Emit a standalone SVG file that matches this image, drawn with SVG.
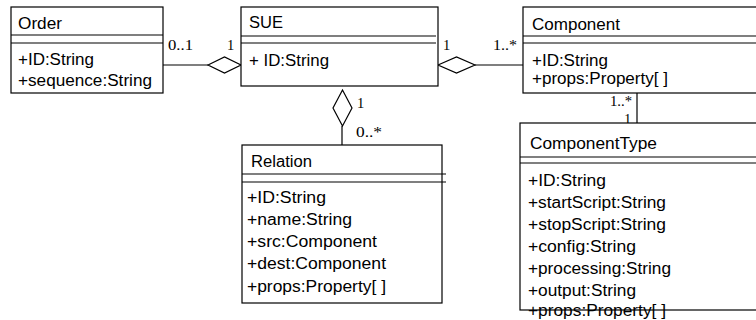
<svg xmlns="http://www.w3.org/2000/svg" width="756" height="320" viewBox="0 0 756 320">
<style>
.box{fill:#fff;stroke:#000;stroke-width:1.2}
.sep{stroke:#000;stroke-width:1.2;fill:none}
.t{font-family:"Liberation Sans",Arial,sans-serif;font-size:16px;fill:#000}
.m{font-family:"Liberation Serif","Times New Roman",serif;font-size:14.5px;fill:#000}
.ln{stroke:#000;stroke-width:1.2;fill:none}
.dia{fill:#fff;stroke:#000;stroke-width:1.2}
</style>
<rect width="756" height="320" fill="#fff"/>
<g id="connectors">
<line class="ln" x1="163" y1="65" x2="208" y2="65"/>
<polygon class="dia" points="208,65 224.5,57 241,65 224.5,73"/>
<line class="ln" x1="475" y1="65" x2="523" y2="65"/>
<polygon class="dia" points="438,65 456.5,57 475,65 456.5,73"/>
<line class="ln" x1="342" y1="126" x2="342" y2="146"/>
<polygon class="dia" points="342.5,90 352,108 342.5,126 333,108"/>
<line class="ln" x1="637" y1="93" x2="637" y2="123"/>
<text class="m" x="168" y="50" textLength="25" lengthAdjust="spacingAndGlyphs">0..1</text>
<text class="m" x="227" y="50">1</text>
<text class="m" x="443" y="50">1</text>
<text class="m" x="493" y="50" textLength="24" lengthAdjust="spacingAndGlyphs">1..*</text>
<text class="m" x="357" y="108">1</text>
<text class="m" x="356" y="137" textLength="26" lengthAdjust="spacingAndGlyphs">0..*</text>
<text class="m" x="610" y="106" textLength="22" lengthAdjust="spacingAndGlyphs">1..*</text>
<text class="m" x="624" y="124">1</text>
</g>
<g id="Order">
<rect class="box" x="11" y="7" width="152" height="86"/>
<line class="sep" x1="11" y1="35" x2="163" y2="35"/>
<line class="sep" x1="11" y1="43" x2="163" y2="43"/>
<text class="t" x="18" y="29" textLength="44" lengthAdjust="spacingAndGlyphs">Order</text>
<text class="t" x="18" y="65" textLength="76" lengthAdjust="spacingAndGlyphs">+ID:String</text>
<text class="t" x="18" y="86" textLength="134" lengthAdjust="spacingAndGlyphs">+sequence:String</text>
</g>
<g id="SUE">
<rect class="box" x="241" y="7" width="197" height="79"/>
<line class="sep" x1="241" y1="36" x2="436" y2="36"/>
<line class="sep" x1="241" y1="43" x2="436" y2="43"/>
<text class="t" x="249" y="28" textLength="34" lengthAdjust="spacingAndGlyphs">SUE</text>
<text class="t" x="249" y="66" textLength="80" lengthAdjust="spacingAndGlyphs">+ ID:String</text>
</g>
<g id="Component">
<rect class="box" x="523" y="7" width="250" height="86"/>
<line class="sep" x1="523" y1="36" x2="756" y2="36"/>
<line class="sep" x1="523" y1="43" x2="756" y2="43"/>
<text class="t" x="532" y="30" textLength="88" lengthAdjust="spacingAndGlyphs">Component</text>
<text class="t" x="532" y="66" textLength="76" lengthAdjust="spacingAndGlyphs">+ID:String</text>
<text class="t" x="532" y="84" textLength="136" lengthAdjust="spacingAndGlyphs">+props:Property[ ]</text>
</g>
<g id="Relation">
<rect class="box" x="242" y="145" width="200" height="158"/>
<line class="sep" x1="242" y1="174" x2="446" y2="174"/>
<line class="sep" x1="242" y1="182" x2="446" y2="182"/>
<text class="t" x="251" y="167" textLength="61" lengthAdjust="spacingAndGlyphs">Relation</text>
<text class="t" x="247" y="203" textLength="79" lengthAdjust="spacingAndGlyphs">+ID:String</text>
<text class="t" x="247" y="225" textLength="105" lengthAdjust="spacingAndGlyphs">+name:String</text>
<text class="t" x="247" y="247" textLength="130" lengthAdjust="spacingAndGlyphs">+src:Component</text>
<text class="t" x="247" y="269" textLength="139" lengthAdjust="spacingAndGlyphs">+dest:Component</text>
<text class="t" x="247" y="292" textLength="139" lengthAdjust="spacingAndGlyphs">+props:Property[ ]</text>
</g>
<g id="ComponentType">
<rect class="box" x="520" y="123" width="250" height="187"/>
<line class="sep" x1="520" y1="157" x2="756" y2="157"/>
<line class="sep" x1="520" y1="163" x2="756" y2="163"/>
<text class="t" x="530" y="149" textLength="127" lengthAdjust="spacingAndGlyphs">ComponentType</text>
<text class="t" x="528" y="186" textLength="78" lengthAdjust="spacingAndGlyphs">+ID:String</text>
<text class="t" x="528" y="208" textLength="138" lengthAdjust="spacingAndGlyphs">+startScript:String</text>
<text class="t" x="528" y="230" textLength="138" lengthAdjust="spacingAndGlyphs">+stopScript:String</text>
<text class="t" x="528" y="252" textLength="108" lengthAdjust="spacingAndGlyphs">+config:String</text>
<text class="t" x="528" y="274" textLength="143" lengthAdjust="spacingAndGlyphs">+processing:String</text>
<text class="t" x="528" y="296" textLength="108" lengthAdjust="spacingAndGlyphs">+output:String</text>
<text class="t" x="528" y="316" textLength="138" lengthAdjust="spacingAndGlyphs">+props:Property[ ]</text>
</g>
</svg>
